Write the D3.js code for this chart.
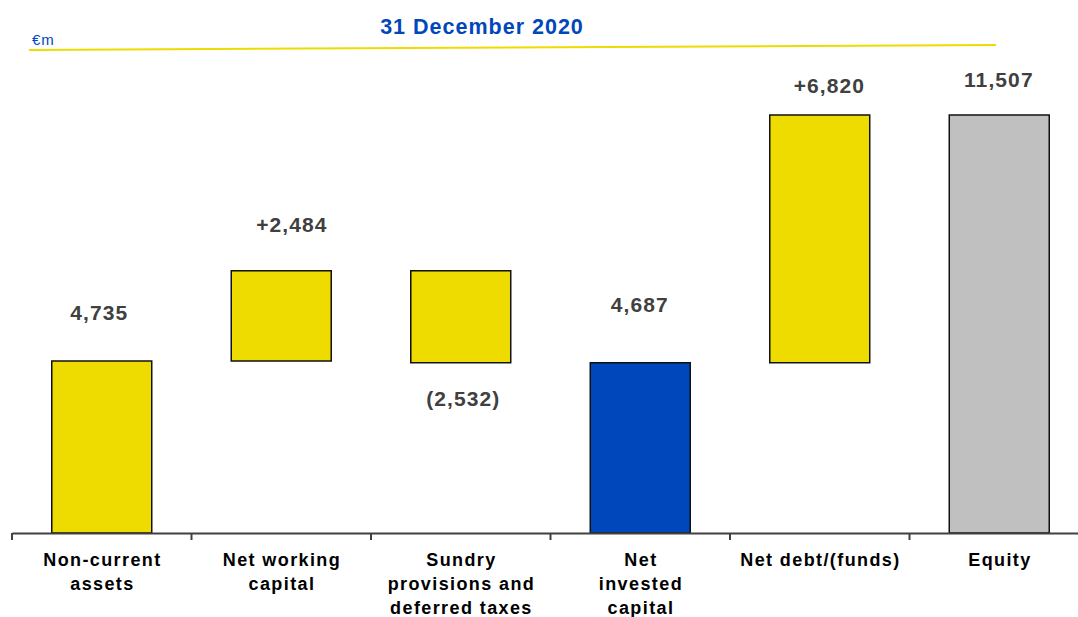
<!DOCTYPE html>
<html>
<head>
<meta charset="utf-8">
<script src="https://cdn.jsdelivr.net/npm/d3@7"></script>
<style>
  body { margin: 0; background: #fff; }
  svg { font-family: "Liberation Sans", Arial, sans-serif; }
</style>
</head>
<body>
<div id="chart-area"></div>
<script>
const categories = [
  ["Non-current", "assets"],
  ["Net working", "capital"],
  ["Sundry", "provisions and", "deferred taxes"],
  ["Net", "invested", "capital"],
  ["Net debt/(funds)"],
  ["Equity"]
];
const barStart = [0, 4735, 7219, 0, 4687, 0];
const barEnd = [4735, 7219, 4687, 4687, 11507, 11507];
const valueLabels = ["4,735", "+2,484", "(2,532)", "4,687", "+6,820", "11,507"];
const barKinds = ["total", "step", "step", "subtotal", "step", "result"];

const canvasWidth = 1078;
const canvasHeight = 617;
const baseline = 533;

const colors = {total: "#EEDC00", step: "#EEDC00", subtotal: "#0047BB", result: "#C0C0C0"};
// label offsets from the bar edge / centre, as placed in the source slide
const labelOffset = [-41, -39, 43, -51, -22, -28];
const labelShiftX = [-3, 10, 2, -1, 9, -1];

const canvas = d3.select("#chart-area").append("svg").attr("width", canvasWidth).attr("height", canvasHeight);

const scaleX = d3.scaleBand().domain(d3.range(categories.length)).range([12, 1089]);
const scaleY = d3.scaleLinear().domain([0, 11507]).range([baseline, 115]);
const barWidth = scaleX.bandwidth() * 0.557;

// header
canvas.append("text")
  .attr("x", 482).attr("y", 34)
  .attr("text-anchor", "middle")
  .attr("font-size", "21.5px").attr("font-weight", "bold")
  .attr("letter-spacing", "1px")
  .attr("fill", "#0047BB")
  .text("31 December 2020");

canvas.append("text")
  .attr("x", 32).attr("y", 45)
  .attr("font-size", "15px")
  .attr("letter-spacing", "1px")
  .attr("fill", "#0047BB")
  .text("€m");

canvas.append("line")
  .attr("x1", 29).attr("y1", 50).attr("x2", 996).attr("y2", 45)
  .attr("stroke", "#EEDC00").attr("stroke-width", 2);

// bars
canvas.selectAll("rect.bar").data(categories).enter()
  .append("rect").attr("class", "bar")
  .attr("x", (d, i) => scaleX(i) + (scaleX.bandwidth() - barWidth) / 2)
  .attr("y", (d, i) => scaleY(Math.max(barStart[i], barEnd[i])))
  .attr("width", barWidth)
  .attr("height", (d, i) => Math.abs(scaleY(barStart[i]) - scaleY(barEnd[i])))
  .attr("fill", (d, i) => colors[barKinds[i]])
  .attr("stroke", "#111").attr("stroke-width", 1.5);

// value labels
canvas.selectAll("text.value").data(valueLabels).enter()
  .append("text").attr("class", "value")
  .attr("x", (d, i) => scaleX(i) + scaleX.bandwidth() / 2 + 0.6 + labelShiftX[i])
  .attr("y", (d, i) => {
    const edge = labelOffset[i] < 0 ? Math.max(barStart[i], barEnd[i]) : Math.min(barStart[i], barEnd[i]);
    return scaleY(edge) + labelOffset[i];
  })
  .attr("text-anchor", "middle")
  .attr("font-size", "21px").attr("font-weight", "bold")
  .attr("letter-spacing", "1.1px")
  .attr("fill", "#404040")
  .text(d => d);

// x axis
const xAxis = d3.axisBottom(scaleX).tickSize(0).tickFormat("");
const axisGroup = canvas.append("g").attr("transform", `translate(0, ${baseline})`).call(xAxis);
axisGroup.select(".domain").attr("stroke", "#404040").attr("stroke-width", 2);

canvas.selectAll("line.tick").data(d3.range(categories.length)).enter()
  .append("line").attr("class", "tick")
  .attr("x1", i => scaleX(i)).attr("x2", i => scaleX(i))
  .attr("y1", baseline).attr("y2", baseline + 7)
  .attr("stroke", "#404040").attr("stroke-width", 2);

const catLabels = canvas.selectAll("text.cat").data(categories).enter()
  .append("text").attr("class", "cat")
  .attr("text-anchor", "middle")
  .attr("font-size", "18px").attr("font-weight", "bold")
  .attr("letter-spacing", "1.4px")
  .attr("fill", "#000");

catLabels.each(function(lines, i) {
  const t = d3.select(this);
  lines.forEach((line, j) => {
    t.append("tspan")
      .attr("x", scaleX(i) + scaleX.bandwidth() / 2 + 0.7)
      .attr("y", 566 + j * 24)
      .text(line);
  });
});
</script>
</body>
</html>
